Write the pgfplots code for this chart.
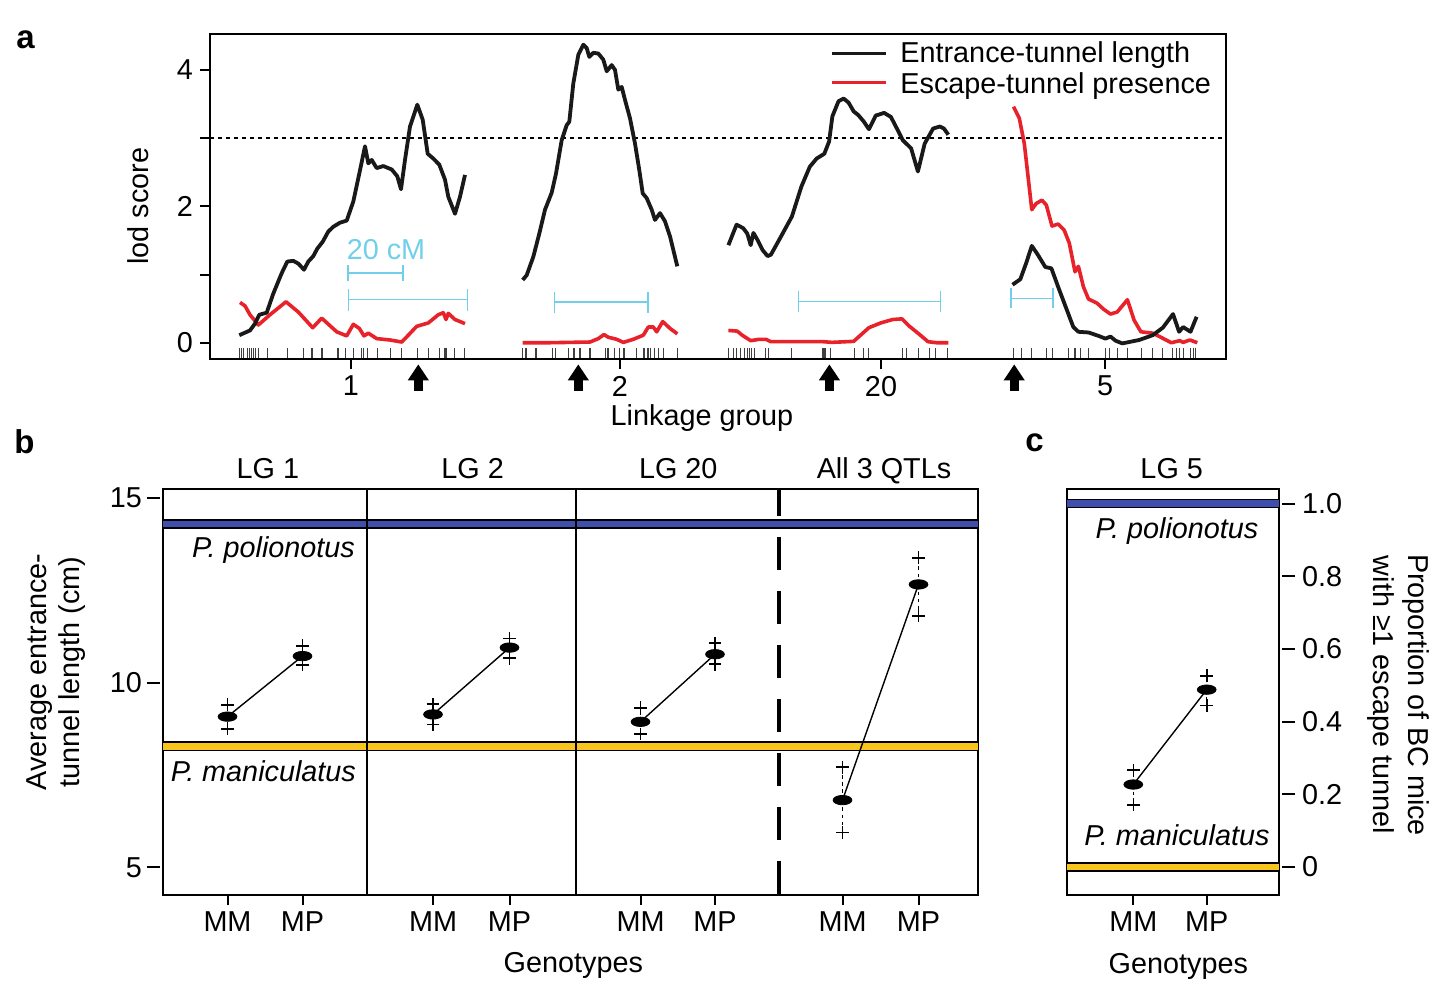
\documentclass[border=0pt]{standalone}
\usepackage{fontspec}
\setmainfont{Liberation Sans}
\usepackage{pgfplots}
\pgfplotsset{compat=1.18}
\usetikzlibrary{arrows.meta}
\definecolor{lred}{HTML}{E8222A}
\definecolor{lblue}{HTML}{72CFEA}
\definecolor{bandblue}{HTML}{3F4FAE}
\definecolor{bandyellow}{HTML}{F7C51E}
\newcommand\fs{\fontsize{14.4}{17}\selectfont}
\pgfdeclareplotmark{ellipse}{\pgfpathellipse{\pgfpointorigin}{\pgfpoint{2\pgfplotmarksize}{0pt}}{\pgfpoint{0pt}{\pgfplotmarksize}}\pgfusepathqfillstroke}
\tikzset{qtlarrow/.style={black, line width=4.5pt, -{Triangle[width=10pt,length=8pt]}}}
\pgfplotsset{
  myaxis/.style={scale only axis, anchor=south west, clip=false,
    axis line style={line width=1.1pt},
    tick style={line width=1pt, black}, tick align=outside,
    xtick pos=bottom,
    /pgf/number format/assume math mode=true,
    tick label style={font=\fs}},
  errpts/.style={black, only marks, mark=ellipse, mark size=2.35pt,
    error bars/.cd, y dir=both, y explicit, error mark=+,
    error bar style={line width=0.6pt, dash pattern=on 1.8pt off 1.8pt},
    error mark options={solid, mark size=3.2pt, line width=0.8pt}},
}
\begin{document}
\begin{tikzpicture}[font=\fs]
\useasboundingbox (0,0) rectangle (726pt,-493.5pt);
% ---------------- panel a
\begin{axis}[myaxis, at={(105pt,-179.5pt)}, width=508pt, height=162.5pt,
  xmin=210, xmax=1226, ymin=-0.239, ymax=4.526,
  xtick={351,620,881,1105}, xticklabels={1,2,20,5},
  ytick={0,1,2,3,4}, yticklabels={0,,2,,4}, ytick pos=left,
  major tick length=5pt]
% rug
\addplot[only marks, mark=|, mark size=2.5pt, color=black!75, mark options={line width=0.55pt}] coordinates {
(239.3,-0.145)(241.3,-0.145)(243.3,-0.145)(247.3,-0.145)(249.3,-0.145)(251.3,-0.145)(253.3,-0.145)(255.3,-0.145)(258.7,-0.145)(267.3,-0.145)(287.3,-0.145)(303.3,-0.145)(312,-0.145)(322,-0.145)(338,-0.145)(345.3,-0.145)(353.3,-0.145)(361.3,-0.145)(363.3,-0.145)(367.3,-0.145)(377.3,-0.145)(390.7,-0.145)(401.3,-0.145)(417.3,-0.145)(428.7,-0.145)(439.3,-0.145)(444.7,-0.145)(445.3,-0.145)(446.7,-0.145)(454.7,-0.145)(464.7,-0.145)
(522.7,-0.145)(526,-0.145)(536,-0.145)(552.7,-0.145)(555.3,-0.145)(568.7,-0.145)(574,-0.145)(580,-0.145)(590,-0.145)(605.3,-0.145)(608,-0.145)(614.7,-0.145)(619.3,-0.145)(624,-0.145)(636.7,-0.145)(644,-0.145)(648,-0.145)(650.7,-0.145)(654.7,-0.145)(658.7,-0.145)(663.3,-0.145)(677.3,-0.145)
(728.4,-0.145)(733.1,-0.145)(736.5,-0.145)(740.5,-0.145)(744.6,-0.145)(747.3,-0.145)(749.3,-0.145)(751.4,-0.145)(754.1,-0.145)(765.5,-0.145)(768.9,-0.145)(791.9,-0.145)(823,-0.145)(825,-0.145)(830.4,-0.145)(854.1,-0.145)(863.5,-0.145)(868.2,-0.145)(902.7,-0.145)(906.1,-0.145)(918.2,-0.145)(929.7,-0.145)(935.8,-0.145)(947.3,-0.145)
(1013.5,-0.145)(1021.6,-0.145)(1031.8,-0.145)(1046.6,-0.145)(1052.7,-0.145)(1068.2,-0.145)(1075,-0.145)(1080.4,-0.145)(1088.5,-0.145)(1105.4,-0.145)(1109.5,-0.145)(1117.6,-0.145)(1127.7,-0.145)(1141.2,-0.145)(1152.7,-0.145)(1162.8,-0.145)(1172.3,-0.145)(1176.4,-0.145)(1179.7,-0.145)(1183.1,-0.145)(1190.5,-0.145)(1193.9,-0.145)(1195.9,-0.145)};
% threshold
\addplot[black, line width=0.6pt, dash pattern=on 2pt off 2pt] coordinates {(210,3)(1226,3)};
% blue intervals
\addplot[lblue, line width=1.2pt, unbounded coords=jump] coordinates {(348,0.90)(348,1.14)(nan,nan)(348,1.02)(402.7,1.02)(nan,nan)(402.7,0.90)(402.7,1.14)};
\addplot[lblue, line width=0.7pt, unbounded coords=jump] coordinates {(348.7,0.47)(348.7,0.79)(nan,nan)(348.7,0.63)(467.3,0.63)(nan,nan)(467.3,0.47)(467.3,0.79)};
\addplot[lblue, line width=0.7pt, unbounded coords=jump] coordinates {(554.7,0.44)(554.7,0.75)(nan,nan)(554.7,0.594)(648,0.594)(nan,nan)(648,0.44)(648,0.75)};
\addplot[lblue, line width=0.7pt, unbounded coords=jump] coordinates {(798.6,0.446)(798.6,0.754)(nan,nan)(798.6,0.60)(940.5,0.60)(nan,nan)(940.5,0.446)(940.5,0.754)};
\addplot[lblue, line width=0.7pt, unbounded coords=jump] coordinates {(1010.8,0.503)(1010.8,0.797)(nan,nan)(1010.8,0.65)(1053,0.65)(nan,nan)(1053,0.503)(1053,0.797)};
\node[lblue, anchor=base, font=\fs] at (axis cs:386,1.213) {20 cM};
% red curves
\addplot[lred, line width=1.8pt, line join=round] coordinates {(240,0.59)(245,0.54)(250,0.41)(258.3,0.26)(270,0.41)(286,0.60)(298.3,0.45)(312.7,0.22)(321.7,0.36)(336.7,0.16)(346.7,0.10)(353.3,0.27)(359.3,0.21)(364,0.10)(368.3,0.14)(376.7,0.06)(390,0.04)(401.7,0.01)(408.3,0.11)(416.7,0.24)(428.3,0.29)(438.3,0.41)(443.3,0.44)(446,0.34)(448.3,0.43)(455,0.34)(465,0.28)};
\addplot[lred, line width=1.8pt, line join=round] coordinates {(522.7,0)(550,0)(590,0.01)(598.3,0.06)(604,0.12)(608.3,0.08)(616.7,0.05)(623.3,0.005)(633.3,0.05)(643.3,0.11)(648.3,0.23)(653.3,0.23)(656.7,0.16)(662.7,0.31)(670,0.21)(677.3,0.13)};
\addplot[lred, line width=1.8pt, line join=round] coordinates {(728.4,0.18)(737.2,0.17)(742.2,0.11)(750.7,0.03)(759.1,0.05)(765.9,0.05)(770.9,0.015)(801.4,0.015)(823.3,0.015)(831.8,0.005)(853.7,0.02)(860.5,0.11)(868.9,0.22)(880.7,0.29)(892.6,0.34)(902,0.35)(909.5,0.24)(919.6,0.12)(928,0.015)(936.5,0)(948.3,0)};
\addplot[lred, line width=1.8pt, line join=round] coordinates {(1013.5,3.46)(1019.3,3.29)(1024.3,2.92)(1028.4,2.39)(1031.8,1.95)(1036.1,2.04)(1041.9,2.09)(1046.3,2.02)(1052,1.71)(1058.1,1.74)(1064.2,1.65)(1069.3,1.46)(1075,1.04)(1078.4,1.12)(1083.4,0.82)(1088.5,0.64)(1097,0.58)(1103.7,0.49)(1110.5,0.42)(1117.2,0.45)(1127.4,0.63)(1134.1,0.33)(1140.9,0.16)(1152.7,0.14)(1159.5,0.09)(1171.3,0)(1179.7,0.03)(1183.1,0.005)(1189.9,0.04)(1197.3,0)};
% black curves
\addplot[black!90, line width=1.9pt, line join=round] coordinates {(239.3,0.11)(250,0.18)(255,0.28)(259.3,0.41)(266.7,0.44)(273.3,0.72)(281.7,1.02)(287.3,1.19)(293.3,1.20)(298.3,1.16)(304,1.07)(308.3,1.19)(313.3,1.27)(317.3,1.38)(322.7,1.48)(328.3,1.63)(333.3,1.70)(340,1.76)(346.7,1.79)(353.3,2.07)(359.3,2.48)(365,2.88)(368.3,2.63)(371.7,2.68)(376.7,2.56)(383.3,2.59)(391.7,2.54)(397.3,2.44)(401,2.25)(405,2.68)(410,3.17)(417.3,3.49)(422.7,3.27)(427.7,2.77)(433.3,2.70)(439.3,2.61)(445,2.39)(448.3,2.14)(455,1.89)(460,2.14)(465,2.46)};
\addplot[black!90, line width=1.9pt, line join=round] coordinates {(522.7,0.92)(526.7,0.99)(533.3,1.26)(539.3,1.60)(545,1.95)(551.7,2.20)(556,2.48)(561.7,2.97)(566.7,3.19)(569.3,3.24)(573.3,3.80)(578.3,4.22)(583.3,4.37)(586.7,4.32)(589.3,4.19)(593.3,4.25)(598.3,4.24)(603.3,4.15)(606.7,3.98)(611.7,4.07)(615,4.00)(618.3,3.71)(621.7,3.75)(625,3.56)(630,3.29)(635,2.92)(639.3,2.53)(642.7,2.19)(646.7,2.12)(651.7,1.95)(655,1.80)(660,1.90)(665,1.78)(670,1.56)(677.3,1.12)};
\addplot[black!90, line width=1.9pt, line join=round] coordinates {(728.4,1.43)(736.5,1.73)(743.2,1.68)(747.3,1.60)(750.7,1.43)(753.4,1.61)(757.4,1.51)(762.5,1.36)(767.6,1.27)(770.9,1.29)(781.1,1.56)(791.9,1.85)(801.4,2.29)(809.8,2.58)(816.6,2.70)(824.3,2.77)(829.1,2.95)(832.4,3.32)(838.5,3.54)(843.6,3.58)(848.6,3.52)(853.7,3.39)(858.1,3.34)(863.9,3.24)(868.9,3.13)(875.7,3.33)(884.1,3.37)(890.9,3.31)(897.6,3.12)(902.7,2.97)(911.1,2.85)(917.9,2.51)(924.7,2.92)(933.1,3.14)(939.9,3.17)(943.9,3.14)(948.3,3.05)};
\addplot[black!90, line width=1.9pt, line join=round] coordinates {(1012.5,0.85)(1020.3,0.93)(1026,1.16)(1031.8,1.42)(1037.8,1.29)(1045.3,1.11)(1051.4,1.09)(1058.1,0.82)(1066.6,0.49)(1073.3,0.23)(1078.4,0.16)(1088.5,0.15)(1098.6,0.10)(1105.4,0.06)(1110.5,0.09)(1115.5,0.03)(1122.3,-0.01)(1139.2,0.04)(1152.7,0.11)(1162.8,0.22)(1173,0.42)(1179.1,0.16)(1183.1,0.23)(1190.5,0.16)(1196.6,0.38)};
% legend
\addplot[black!90, line width=1.9pt] coordinates {(831.8,4.239)(885.8,4.239)};
\addplot[lred, line width=1.8pt] coordinates {(831.8,3.817)(885.8,3.817)};
\node[anchor=base west, inner sep=0pt, font=\fs] at (axis cs:900,4.101) {Entrance-tunnel length};
\node[anchor=base west, inner sep=0pt, font=\fs] at (axis cs:900,3.647) {Escape-tunnel presence};
% QTL arrows
\draw[qtlarrow] (axis cs:418.3,-0.71) -- (axis cs:418.3,-0.317);
\draw[qtlarrow] (axis cs:578.3,-0.71) -- (axis cs:578.3,-0.317);
\draw[qtlarrow] (axis cs:829.4,-0.71) -- (axis cs:829.4,-0.317);
\draw[qtlarrow] (axis cs:1014.2,-0.71) -- (axis cs:1014.2,-0.317);
\end{axis}
% ---------------- panel b
\begin{axis}[myaxis, at={(81.5pt,-447.5pt)}, width=407.5pt, height=203pt,
  xmin=163, xmax=978, ymin=4.25, ymax=15.244,
  xtick={227.5,302.5,433,509.5,640.5,715,842.5,918.5},
  xticklabels={MM,MP,MM,MP,MM,MP,MM,MP},
  ytick={5,10,15}, yticklabels={5,10,15}, ytick pos=left,
  major tick length=5pt,
  ytick style={xshift=-1.5pt, /pgfplots/major tick length=6.5pt},
  yticklabel style={xshift=-2pt}]
\addplot[black, line width=4.7pt] coordinates {(163,14.30)(978,14.30)};
\addplot[bandblue, line width=3.1pt] coordinates {(163,14.30)(978,14.30)};
\addplot[black, line width=5pt] coordinates {(163,8.28)(978,8.28)};
\addplot[bandyellow, line width=3.4pt] coordinates {(163,8.28)(978,8.28)};
\addplot[black, line width=1pt] coordinates {(366.5,4.25)(366.5,15.244)};
\addplot[black, line width=1pt] coordinates {(575.5,4.25)(575.5,15.244)};
\addplot[black, line width=1.6pt, dash pattern=on 16.5pt off 10.5pt, dash phase=3pt] coordinates {(779,15.244)(779,4.25)};
\addplot[black, line width=0.7pt] coordinates {(227.5,9.08)(302.5,10.72)};
\addplot[black, line width=0.7pt] coordinates {(433,9.14)(509.5,10.95)};
\addplot[black, line width=0.7pt] coordinates {(640.5,8.94)(715,10.77)};
\addplot[black, line width=0.7pt] coordinates {(842.5,6.82)(918.5,12.66)};
\addplot[errpts] coordinates {
 (227.5,9.08) += (0,0.32) -= (0,0.33)
 (302.5,10.72) += (0,0.28) -= (0,0.24)
 (433,9.14) += (0,0.28) -= (0,0.27)
 (509.5,10.95) += (0,0.25) -= (0,0.29)
 (640.5,8.94) += (0,0.38) -= (0,0.33)
 (715,10.77) += (0,0.30) -= (0,0.27)
 (842.5,6.82) += (0,0.89) -= (0,0.88)
 (918.5,12.66) += (0,0.72) -= (0,0.85)};
\end{axis}
% ---------------- panel c
\begin{axis}[myaxis, at={(533.5pt,-447.5pt)}, width=106pt, height=203pt,
  xmin=1067, xmax=1279, ymin=-0.077, ymax=1.040,
  xtick={1133.3,1206.7}, xticklabels={MM,MP},
  ytick={0,0.2,0.4,0.6,0.8,1}, yticklabels={0,0.2,0.4,0.6,0.8,1.0},
  ytick pos=right, major tick length=5pt,
  ytick style={xshift=1.5pt, /pgfplots/major tick length=6.5pt},
  yticklabel style={xshift=3pt}]
\addplot[black, line width=4.7pt] coordinates {(1067,1.0)(1279,1.0)};
\addplot[bandblue, line width=3.1pt] coordinates {(1067,1.0)(1279,1.0)};
\addplot[black, line width=4.7pt] coordinates {(1067,0.0)(1279,0.0)};
\addplot[bandyellow, line width=3.1pt] coordinates {(1067,0.0)(1279,0.0)};
\addplot[black, line width=0.7pt] coordinates {(1133.3,0.227)(1206.7,0.488)};
\addplot[errpts] coordinates {
 (1133.3,0.227) += (0,0.040) -= (0,0.056)
 (1206.7,0.488) += (0,0.038) -= (0,0.044)};
\end{axis}
% ---------------- texts
\node[anchor=base west, inner sep=0pt, font=\bfseries\fontsize{16.5}{16.5}\selectfont] at (8pt,-24pt) {a};
\node[anchor=base west, inner sep=0pt, font=\bfseries\fontsize{16.5}{16.5}\selectfont] at (7pt,-226.5pt) {b};
\node[anchor=base west, inner sep=0pt, font=\bfseries\fontsize{16.5}{16.5}\selectfont] at (512.5pt,-225.5pt) {c};
\node[rotate=90] at (69pt,-103pt) {lod score};
\node[anchor=base] at (351pt,-212.5pt) {Linkage group};
\node[anchor=base] at (133.95pt,-239.15pt) {LG 1};
\node[anchor=base] at (236.3pt,-239.15pt) {LG 2};
\node[anchor=base] at (339.15pt,-239.15pt) {LG 20};
\node[anchor=base] at (442pt,-239.15pt) {All 3 QTLs};
\node[anchor=base] at (585.85pt,-239.15pt) {LG 5};
\node[anchor=base east, font=\fs\itshape] at (181pt,-278.5pt) {P. polionotus};
\node[anchor=base east, font=\fs\itshape] at (181.5pt,-390.85pt) {P. maniculatus};
\node[anchor=base, font=\fs\itshape] at (588.5pt,-269pt) {P. polionotus};
\node[anchor=base, font=\fs\itshape] at (588.5pt,-422.8pt) {P. maniculatus};
\node[anchor=base] at (286.65pt,-486pt) {Genotypes};
\node[anchor=base] at (589.15pt,-486.5pt) {Genotypes};
\node[rotate=90, align=center, font=\fontsize{14.4}{16.5}\selectfont] at (28.25pt,-336pt) {Average entrance-\\tunnel length (cm)};
\node[rotate=-90, align=center, font=\fontsize{14.4}{17.5}\selectfont] at (699.25pt,-347.5pt) {Proportion of BC mice\\with ≥1 escape tunnel};
\end{tikzpicture}
\end{document}
